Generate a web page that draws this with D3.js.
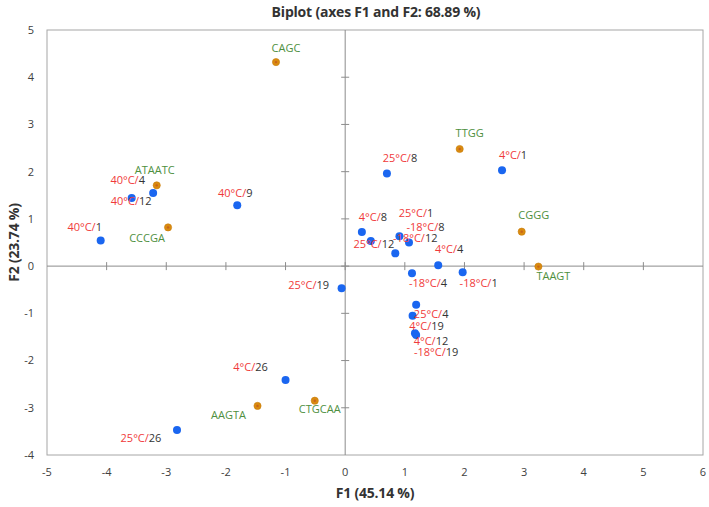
<!DOCTYPE html>
<html>
<head>
<meta charset="utf-8">
<script src="https://cdn.jsdelivr.net/npm/d3@7"></script>
<style>
  html, body { margin: 0; padding: 0; background: #fff; }
  svg { display: block; }
</style>
</head>
<body>
<svg id="chart" width="709" height="507"></svg>
<script>
// ---------------- DATA ----------------
const obsTemps = ["40°C/", "40°C/", "40°C/", "40°C/", "25°C/", "4°C/", "4°C/", "25°C/", "25°C/", "-18°C/", "-18°C/", "4°C/", "-18°C/", "-18°C/", "25°C/", "25°C/", "4°C/", "4°C/", "-18°C/", "4°C/", "25°C/"];
const obsDays  = ["1", "4", "12", "9", "8", "1", "8", "12", "1", "8", "12", "4", "4", "1", "19", "4", "19", "12", "19", "26", "26"];
const obsF1 = [-4.10, -3.58, -3.22, -1.81, 0.70, 2.63, 0.28, 0.43, 1.07, 0.91, 0.84, 1.56, 1.12, 1.97, -0.06, 1.19, 1.13, 1.17, 1.19, -1.00, -2.82];
const obsF2 = [0.54, 1.44, 1.55, 1.29, 1.96, 2.03, 0.72, 0.53, 0.50, 0.63, 0.27, 0.02, -0.15, -0.13, -0.47, -0.82, -1.05, -1.42, -1.46, -2.41, -3.47];

const varNames = ["CAGC", "ATAATC", "CCCGA", "TTGG", "CGGG", "TAAGT", "AAGTA", "CTGCAA"];
const varF1 = [-1.16, -3.16, -2.97, 1.92, 2.96, 3.24, -1.47, -0.51];
const varF2 = [4.32, 1.71, 0.82, 2.48, 0.73, -0.01, -2.96, -2.85];

const xTicks = [-5, -4, -3, -2, -1, 0, 1, 2, 3, 4, 5, 6];
const yTicks = [-4, -3, -2, -1, 0, 1, 2, 3, 4, 5];

const titleText = "Biplot (axes F1 and F2: 68.89 %)";
const xTitle = "F1 (45.14 %)";
const yTitle = "F2 (23.74 %)";

// label nudges (layout, pixels: centre of label relative to point)
const obsLabelOffsets = [[-16,-13],[-4,-18],[-22,8],[-2,-12],[13,-15],[11,-15],[11,-15],[3,3],[7,-29],[26,-9],[20,-15],[11,-16],[16,10],[16,11],[-33,-3],[15,9],[14,10],[16,8],[20,17],[-35,-13],[-36,8]];
const varLabelOffsets = [[10,-14],[-2,-15],[-21,11],[10,-16],[12,-16],[15,10],[-29,9],[5,8]];

// ---------------- CHART ----------------
const svg = d3.select("#chart");
const m = { left: 47, top: 30, right: 703, bottom: 455 };
const x = d3.scaleLinear().domain([-5, 6]).range([m.left, m.right]);
const y = d3.scaleLinear().domain([-4, 5]).range([m.bottom, m.top]);

const font = "'Open Sans', 'DejaVu Sans', sans-serif";
const textDark = "#404040";

// title
svg.append("text").attr("x", (m.left + m.right) / 2 + 1).attr("y", 17)
  .attr("text-anchor", "middle").attr("font-family", font).attr("font-size", 14)
  .attr("font-weight", "bold").attr("fill", "#333").attr("letter-spacing", "-0.2px").text(titleText);

// frame
svg.append("rect").attr("x", m.left).attr("y", m.top)
  .attr("width", m.right - m.left).attr("height", m.bottom - m.top)
  .attr("fill", "none").attr("stroke", "#a6a6a6").attr("stroke-width", 1);

// zero axes
const axisColor = "#8c8c8c";
svg.append("line").attr("x1", m.left).attr("x2", m.right).attr("y1", y(0)).attr("y2", y(0))
  .attr("stroke", axisColor).attr("stroke-width", 1);
svg.append("line").attr("x1", x(0)).attr("x2", x(0)).attr("y1", m.top).attr("y2", m.bottom)
  .attr("stroke", axisColor).attr("stroke-width", 1);

// tick marks on zero axes
svg.append("g").selectAll("line").data(xTicks.filter(d => d > -5 && d < 6)).join("line")
  .attr("x1", d => x(d)).attr("x2", d => x(d)).attr("y1", y(0) - 4).attr("y2", y(0) + 4)
  .attr("stroke", axisColor);
svg.append("g").selectAll("line").data(yTicks.filter(d => d > -4 && d < 5)).join("line")
  .attr("x1", x(0) - 4).attr("x2", x(0) + 4).attr("y1", d => y(d)).attr("y2", d => y(d))
  .attr("stroke", axisColor);

// tick labels
svg.append("g").selectAll("text").data(xTicks).join("text")
  .attr("x", d => x(d)).attr("y", 476).attr("text-anchor", "middle")
  .attr("font-family", font).attr("font-size", 11).attr("fill", textDark).text(d => d);
svg.append("g").selectAll("text").data(yTicks).join("text")
  .attr("x", 34).attr("y", d => y(d)).attr("dy", "0.35em").attr("text-anchor", "end")
  .attr("font-family", font).attr("font-size", 11).attr("fill", textDark).text(d => d);

// axis titles
svg.append("text").attr("x", (m.left + m.right) / 2).attr("y", 498)
  .attr("text-anchor", "middle").attr("font-family", font).attr("font-size", 14)
  .attr("font-weight", "bold").attr("fill", "#333").attr("letter-spacing", "-0.2px").text(xTitle);
svg.append("text").attr("transform", `translate(19,${(m.top + m.bottom) / 2}) rotate(-90)`)
  .attr("text-anchor", "middle").attr("font-family", font).attr("font-size", 14)
  .attr("font-weight", "bold").attr("fill", "#333").attr("letter-spacing", "-0.2px").text(yTitle);

// variable points (orange)
const vars = varNames.map((n, i) => ({ name: n, f1: varF1[i], f2: varF2[i], off: varLabelOffsets[i] }));
svg.append("g").selectAll("circle").data(vars).join("circle")
  .attr("cx", d => x(d.f1)).attr("cy", d => y(d.f2)).attr("r", 3.6)
  .attr("fill", "#d98b10").attr("stroke", "#c97d0b").attr("stroke-width", 0.6);
svg.append("g").selectAll("circle").data(vars).join("circle")
  .attr("cx", d => x(d.f1)).attr("cy", d => y(d.f2)).attr("r", 1.2)
  .attr("fill", "#c8621c");
svg.append("g").selectAll("text").data(vars).join("text")
  .attr("x", d => x(d.f1) + d.off[0]).attr("y", d => y(d.f2) + d.off[1]).attr("dy", "0.35em")
  .attr("text-anchor", "middle").attr("font-family", font).attr("font-size", 11)
  .attr("fill", "#4e8f3e").text(d => d.name);

// observation points (blue)
const obs = obsTemps.map((t, i) => ({ t, d: obsDays[i], f1: obsF1[i], f2: obsF2[i], off: obsLabelOffsets[i] }));
svg.append("g").selectAll("circle").data(obs).join("circle")
  .attr("cx", d => x(d.f1)).attr("cy", d => y(d.f2)).attr("r", 4)
  .attr("fill", "#1a66f0");
const labels = svg.append("g").selectAll("text").data(obs).join("text")
  .attr("x", d => x(d.f1) + d.off[0]).attr("y", d => y(d.f2) + d.off[1]).attr("dy", "0.35em")
  .attr("text-anchor", "middle").attr("font-family", font).attr("font-size", 11);
labels.append("tspan").attr("fill", "#f03a3a").text(d => d.t);
labels.append("tspan").attr("fill", "#333").text(d => d.d);
</script>
</body>
</html>
